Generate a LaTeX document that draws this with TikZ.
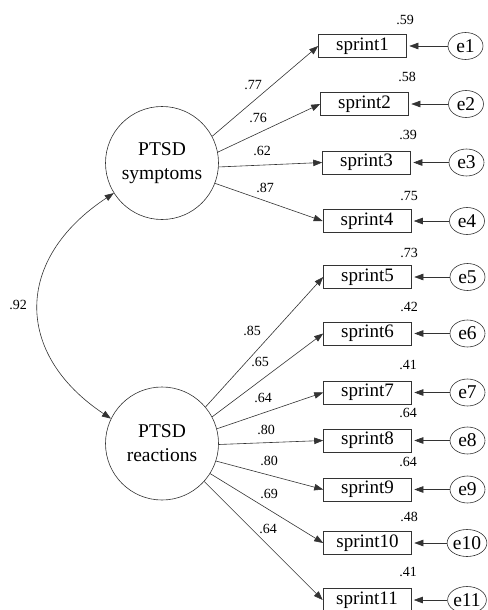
\documentclass[tikz,border=0pt]{standalone}
\usepackage{fontspec}
\setmainfont{Liberation Serif}
\usetikzlibrary{arrows.meta,shapes.geometric}
\begin{document}
\begin{tikzpicture}[x=1pt,y=-1pt,
  line width=0.6pt,
  lat/.style={draw=black!80,circle,minimum size=113pt,inner sep=0pt,align=center,font=\rmfamily\fontsize{19.5}{24}\selectfont},
  obs/.style={draw=black!80,rectangle,minimum width=88pt,minimum height=23pt,inner sep=0pt,font=\rmfamily\fontsize{19}{22}\selectfont},
  err/.style={draw=black!80,ellipse,minimum width=35pt,minimum height=27pt,inner sep=0pt,font=\rmfamily\fontsize{19.5}{22}\selectfont},
  lbl/.style={inner sep=0pt,font=\rmfamily\fontsize{14}{16}\selectfont},
  arr/.style={draw=black!80,-{Triangle[length=9pt,width=6.5pt]}},
  earr/.style={arr,shorten >=2.5pt}]
\useasboundingbox (0,0) rectangle (487,610);

\node[lat] (sym) at (162,163) {PTSD\\symptoms};
\node[lat] (rea) at (162,443.5) {PTSD\\reactions};

\node[obs] (s1) at (362.5,46) {sprint1};
\node[obs] (s2) at (364.5,104) {sprint2};
\node[obs] (s3) at (366.5,162.5) {sprint3};
\node[obs] (s4) at (367,221) {sprint4};
\node[obs] (s5) at (367.5,277) {sprint5};
\node[obs] (s6) at (367.5,333.5) {sprint6};
\node[obs] (s7) at (367.5,392.5) {sprint7};
\node[obs] (s8) at (367.5,440.5) {sprint8};
\node[obs] (s9) at (367.5,489.5) {sprint9};
\node[obs] (s10) at (367.5,543) {sprint10};
\node[obs] (s11) at (367,600) {sprint11};

\node[err] (e1) at (465.5,46) {e1};
\node[err] (e2) at (466,104) {e2};
\node[err] (e3) at (466.5,162.5) {e3};
\node[err] (e4) at (467,221) {e4};
\node[err] (e5) at (467.5,277) {e5};
\node[err] (e6) at (467.5,333.5) {e6};
\node[err] (e7) at (467.5,392.5) {e7};
\node[err] (e8) at (467.5,440.5) {e8};
\node[err] (e9) at (467.5,489.5) {e9};
\node[err] (e10) at (467,543) {e10};
\node[err] (e11) at (467,600) {e11};

% loadings
\draw[arr] (sym.28) -- (s1.west);
\draw[arr] (sym.11) -- (s2.west);
\draw[arr] (sym.-4) -- (s3.west);
\draw[arr] (sym.-21) -- (s4.west);
\draw[arr] (rea.40) -- (s5.west);
\draw[arr] (rea.28) -- (s6.west);
\draw[arr] (rea.15) -- (s7.west);
\draw[arr] (rea.-1.5) -- (s8.west);
\draw[arr] (rea.-18) -- (s9.west);
\draw[arr] (rea.-32) -- (s10.west);
\draw[arr] (rea.-42) -- (s11.west);

% errors
\foreach \i in {1,...,11} { \draw[earr] (e\i) -- (s\i); }

% correlation
\draw[draw=black!80,{Triangle[length=9pt,width=6.5pt]}-{Triangle[length=9pt,width=6.5pt]}]
  (sym.212) .. controls (14,259) and (14,354) .. (rea.154);

% loading labels
\node[lbl] (l1) at (253,85) {.77};
\node[lbl] (l2) at (258,118) {.76};
\node[lbl] (l3) at (262,151) {.62};
\node[lbl] (l4) at (265,188) {.87};
\node[lbl] (l5) at (252,331) {.85};
\node[lbl] (l6) at (260,362) {.65};
\node[lbl] (l7) at (263,398) {.64};
\node[lbl] (l8) at (266,430) {.80};
\node[lbl] (l9) at (269,461) {.80};
\node[lbl] (l10) at (269,494) {.69};
\node[lbl] (l11) at (268,529) {.64};
\node[lbl] (lc) at (18,305) {.92};

% R2 labels
\node[lbl] (r1) at (405,20) {.59};
\node[lbl] (r2) at (407,77) {.58};
\node[lbl] (r3) at (408,135) {.39};
\node[lbl] (r4) at (409,196) {.75};
\node[lbl] (r5) at (409,253) {.73};
\node[lbl] (r6) at (409,307) {.42};
\node[lbl] (r7) at (408,365) {.41};
\node[lbl] (r8) at (408,413) {.64};
\node[lbl] (r9) at (408,462) {.64};
\node[lbl] (r10) at (409,517) {.48};
\node[lbl] (r11) at (408,572) {.41};
\end{tikzpicture}
\end{document}
